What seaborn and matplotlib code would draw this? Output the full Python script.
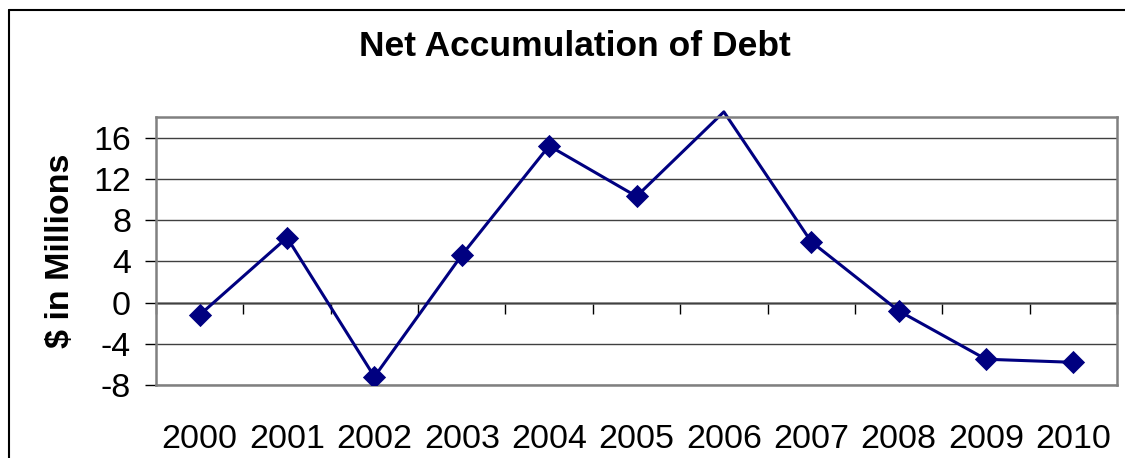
import pandas as pd
import matplotlib.pyplot as plt
import seaborn as sns
from matplotlib.lines import Line2D

years = ["2000", "2001", "2002", "2003", "2004", "2005", "2006", "2007", "2008", "2009", "2010"]
debt = [-1.2, 6.3, -7.2, 4.6, 15.2, 10.3, 18.5, 5.9, -0.8, -5.5, -5.8]
y_ticks = [-8, -4, 0, 4, 8, 12, 16]
y_min, y_max = -8, 18

df = pd.DataFrame({"year": years, "debt": debt})

sns.set_style("white")
plt.rcParams['font.family'] = ['Liberation Sans', 'DejaVu Sans']
plt.rcParams['text.color'] = 'black'
plt.rcParams['xtick.color'] = 'black'
plt.rcParams['ytick.color'] = 'black'
plt.rcParams['axes.labelcolor'] = 'black'

fig = plt.figure(figsize=(11.25, 4.58), dpi=100)
ax = fig.add_axes([156 / 1125, 1 - 385 / 458, (1117 - 156) / 1125, (385 - 117) / 458])

navy = "#000080"
sns.lineplot(data=df, x="year", y="debt", color=navy, linewidth=2.2, ax=ax, clip_on=False)
# Excel hides markers that fall outside the value axis
inside = df[df.debt <= y_max]
sns.scatterplot(data=inside, x="year", y="debt", color=navy, marker="D", s=140,
                edgecolor=navy, linewidth=0, ax=ax, zorder=3)

ax.set_xlim(-0.5, len(years) - 0.5)
ax.set_ylim(y_min, y_max)
ax.set_yticks(y_ticks)
ax.set_yticklabels([str(t) for t in y_ticks], fontsize=24.5)
ax.set_xticks(range(len(years)))
ax.set_xticklabels(years, fontsize=24.5)
ax.tick_params(axis="x", length=0, pad=28)
ax.tick_params(axis="y", length=8, width=1, left=True, pad=10)

ax.set_axisbelow(True)
ax.yaxis.grid(True, color="#404040", linewidth=1)

for s in ax.spines.values():
    s.set_color("#808080")
    s.set_linewidth(1.8)

# category axis crossing at zero, tick marks between categories
zero_ax = ax.secondary_xaxis(0, transform=ax.transData)
zero_ax.set_xticks([i - 0.5 for i in range(len(years) + 1)])
zero_ax.set_xticklabels([])
zero_ax.tick_params(axis="x", direction="out", length=8, width=1)
zero_ax.spines["bottom"].set_color("#808080")
zero_ax.spines["bottom"].set_linewidth(1.8)

ax.set_xlabel("")
ax.set_ylabel("$ in Millions", fontsize=24.5, fontweight="bold", labelpad=12)

fig.text(0.511, 1 - 47 / 458, "Net Accumulation of Debt", fontsize=25.5, fontweight="bold",
         ha="center", va="center")

# chart area border
fig.add_artist(Line2D([9 / 1125, 9 / 1125], [0, 1 - 9.5 / 458], color="black", linewidth=1.5))
fig.add_artist(Line2D([9 / 1125, 1], [1 - 9.5 / 458, 1 - 9.5 / 458], color="black", linewidth=1.5))

fig.savefig("out.png", dpi=100)
